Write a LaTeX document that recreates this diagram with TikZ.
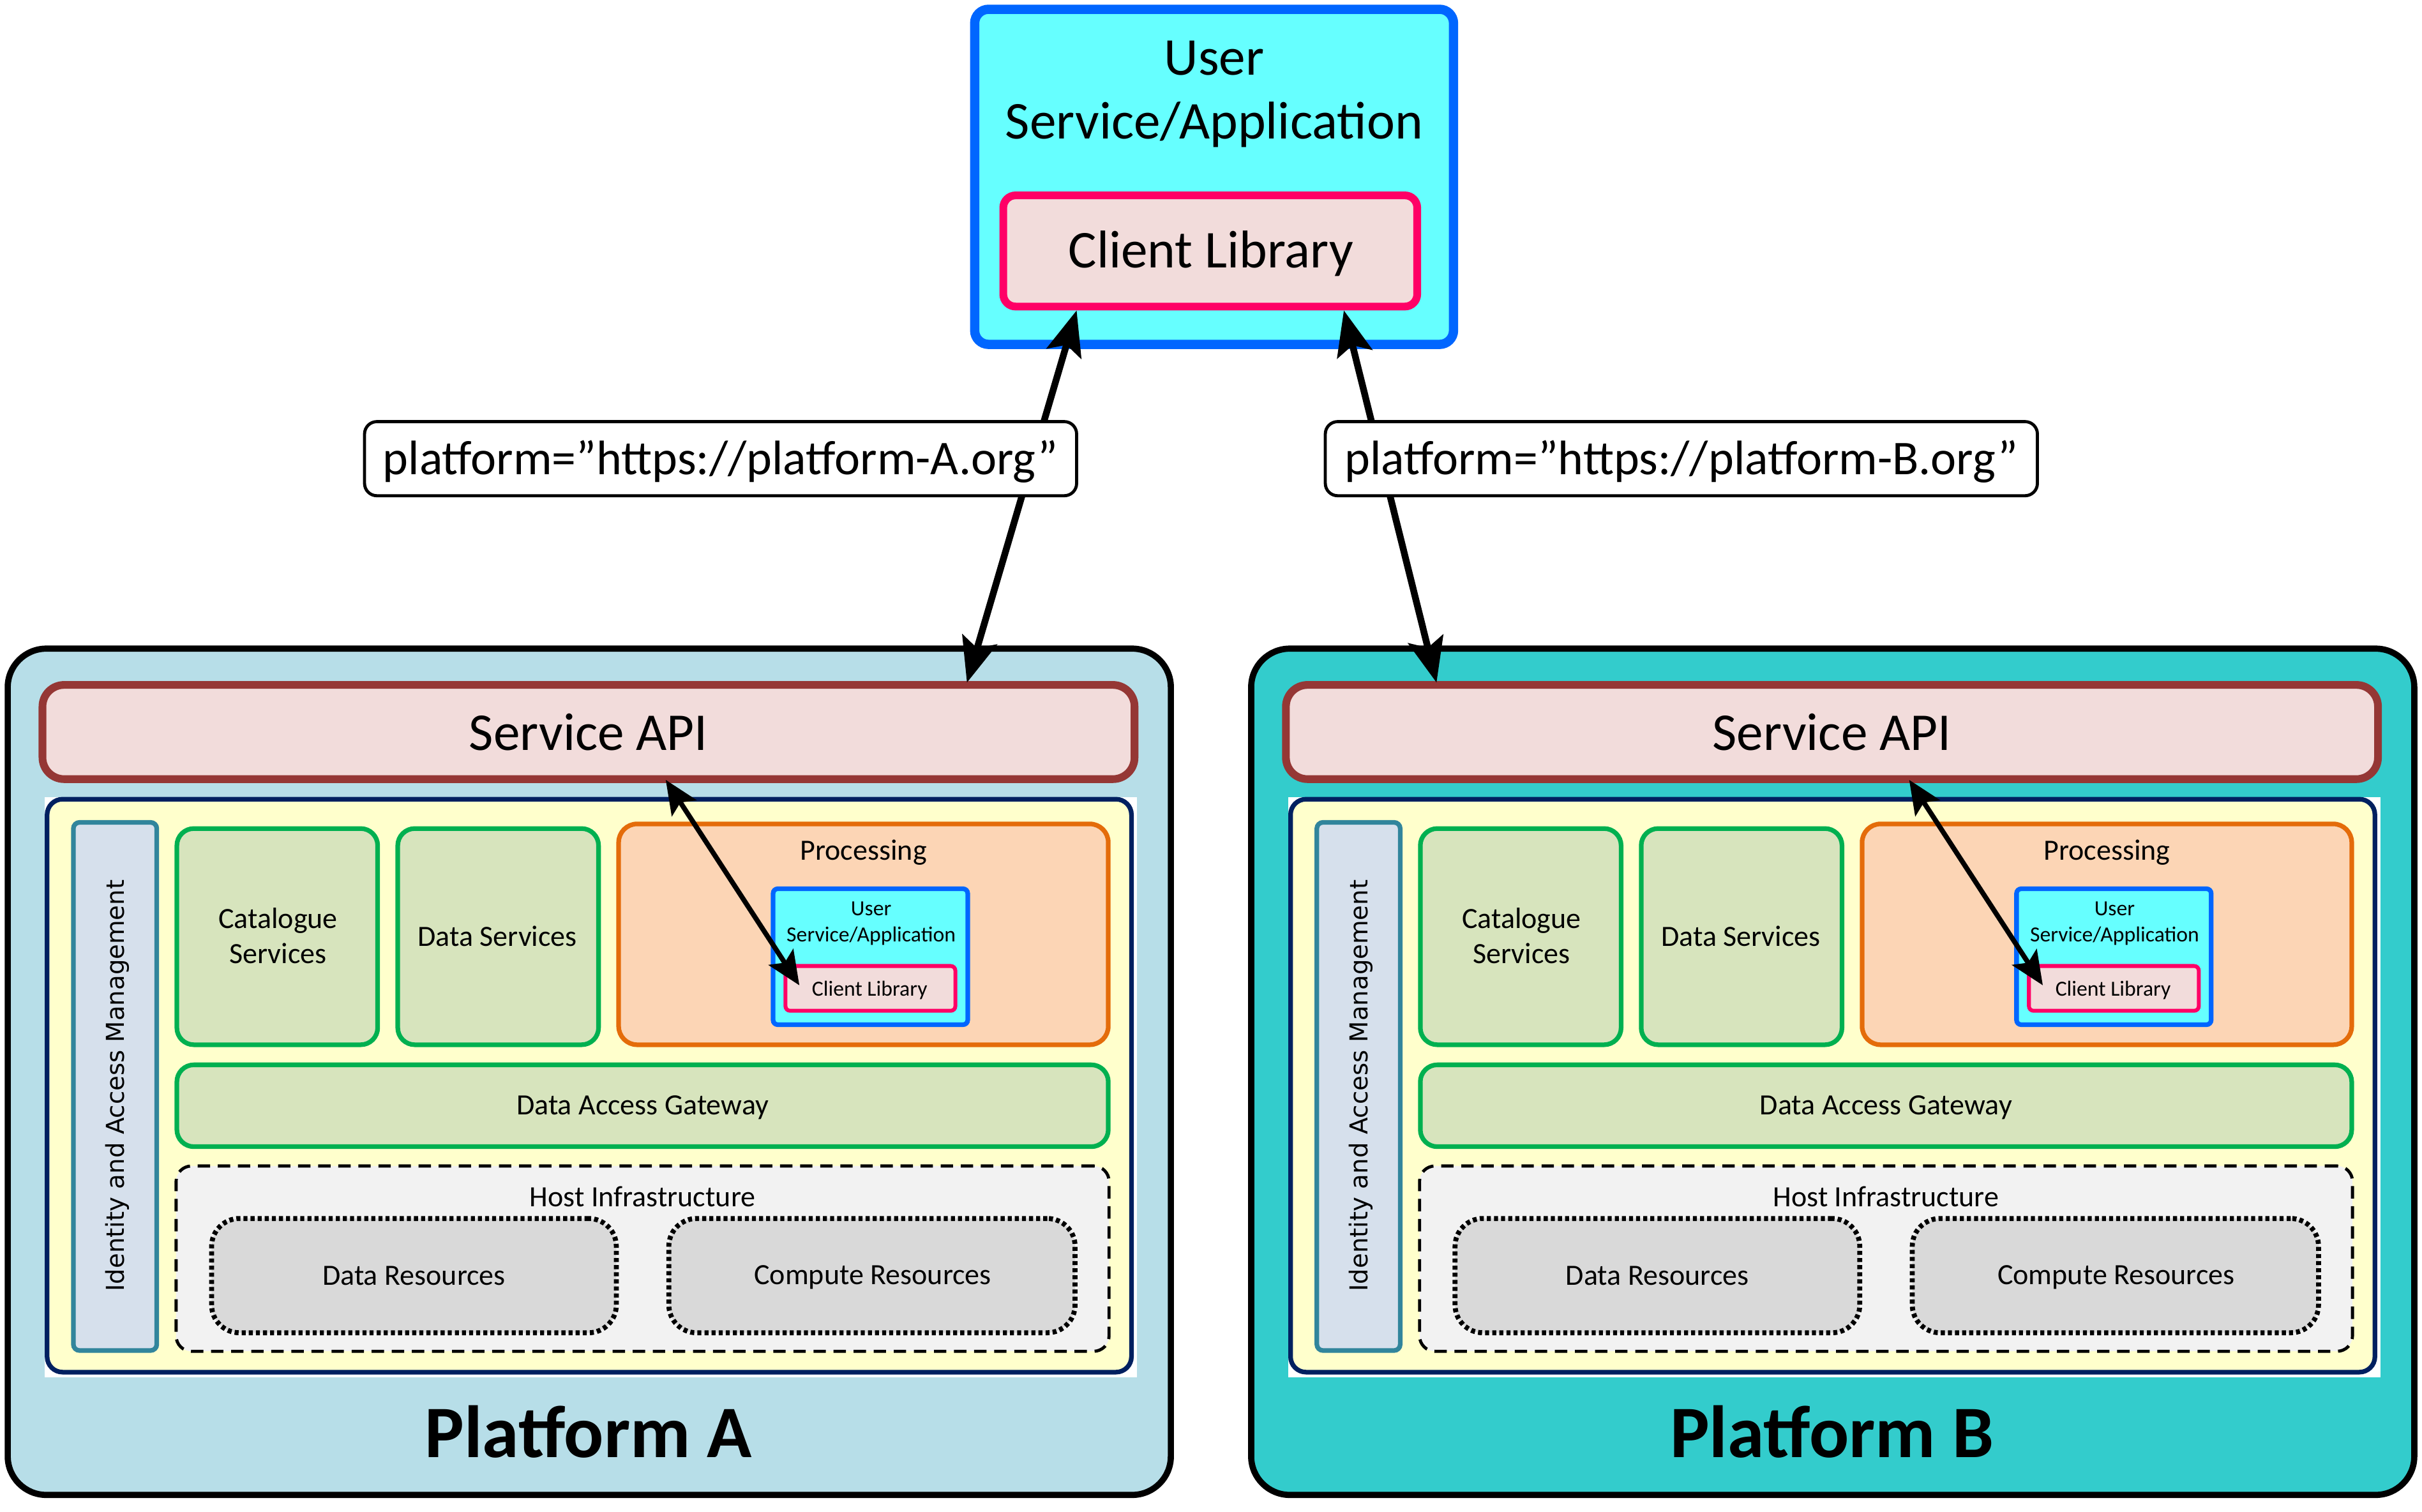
\documentclass[tikz,border=0pt]{standalone}
\usepackage{fontspec}
\setmainfont{Carlito}
\newfontfamily\iamfont{DejaVu Sans}
\usetikzlibrary{arrows.meta,fit,calc}
\newlength\pxu \setlength\pxu{0.24196mm}
\definecolor{ublue}{HTML}{0066FF}
\definecolor{ucyan}{HTML}{66FFFF}
\definecolor{cpink}{HTML}{FF0066}
\definecolor{cfill}{HTML}{F2DCDB}
\definecolor{platA}{HTML}{B7DEE8}
\definecolor{platB}{HTML}{33CCCC}
\definecolor{apibrd}{HTML}{953735}
\definecolor{yel}{HTML}{FFFFCC}
\definecolor{navy}{HTML}{002060}
\definecolor{iambrd}{HTML}{31859C}
\definecolor{iamfill}{HTML}{D6E0EC}
\definecolor{grn}{HTML}{00B050}
\definecolor{grnfill}{HTML}{D7E4BD}
\definecolor{orng}{HTML}{E46C0A}
\definecolor{orfill}{HTML}{FCD5B5}
\definecolor{hostfill}{HTML}{F2F2F2}
\definecolor{resfill}{HTML}{D9D9D9}
\begin{document}
\begin{tikzpicture}[x=0.24196mm,y=-0.24196mm,
  box/.style={inner sep=0pt},
  usrbox/.style={box, draw=ublue, fill=ucyan, line width=6\pxu, rounded corners=9\pxu},
  clbox/.style={box, draw=cpink, fill=cfill, line width=5\pxu, rounded corners=8\pxu},
  lblbox/.style={box, draw=black, fill=white, line width=2\pxu, rounded corners=8\pxu},
  platbox/.style={box, draw=black, line width=4\pxu, rounded corners=25\pxu},
  apibox/.style={box, draw=apibrd, fill=cfill, line width=5\pxu, rounded corners=14\pxu},
  yelbox/.style={box, draw=navy, fill=yel, line width=3\pxu, rounded corners=10\pxu},
  iambox/.style={box, draw=iambrd, fill=iamfill, line width=3\pxu, rounded corners=4\pxu},
  grnbox/.style={box, draw=grn, fill=grnfill, line width=3\pxu, rounded corners=11\pxu},
  procbox/.style={box, draw=orng, fill=orfill, line width=3\pxu, rounded corners=12\pxu},
  pusrbox/.style={box, draw=ublue, fill=ucyan, line width=3\pxu, rounded corners=3\pxu},
  pclbox/.style={box, draw=cpink, fill=cfill, line width=2.5\pxu, rounded corners=3\pxu},
  hostbox/.style={box, draw=black, fill=hostfill, line width=2\pxu, dash pattern=on 8\pxu off 5\pxu, rounded corners=10\pxu},
  resbox/.style={box, draw=black, fill=resfill, line width=3.2\pxu, dash pattern=on 2.6\pxu off 2\pxu, rounded corners=18\pxu},
  bigfont/.style={font=\fontsize{23.7}{28.5}\selectfont, align=center},
  lblfont/.style={font=\fontsize{21.6}{26}\selectfont},
  smallfont/.style={font=\fontsize{13.1}{15.8}\selectfont, align=center},
  tinyfont/.style={font=\fontsize{9.6}{11.7}\selectfont, align=center},
  iamtext/.style={font=\iamfont\fontsize{11}{12}\selectfont, rotate=90},
  platfont/.style={font=\fontsize{33}{40}\selectfont\bfseries},
  toparrow/.style={line width=3pt, {Stealth[length=20pt,width=16pt,inset=4pt]}-{Stealth[length=20pt,width=16pt,inset=4pt]}},
  innerarrow/.style={line width=2.2pt, {Stealth[length=15pt,width=13pt,inset=3pt]}-{Stealth[length=15pt,width=13pt,inset=3pt]}}
]
\useasboundingbox (0,0) rectangle (1568,979);

\foreach \s/\dx/\fc in {A/0/platA,B/805/platB}{
  \node[platbox, fill=\fc, fit={({5+\dx},420) ({758+\dx},968)}] (plat\s) {};
  \node[apibox, fit={({27.5+\dx},443.5) ({734.5+\dx},504.5)}] (api\s) {};
  \node[bigfont] (apiT\s) at ({381+\dx},474) {Service API};
  \fill[white] ({29+\dx},516) rectangle ({736+\dx},892);
  \node[yelbox, fit={({30.5+\dx},517.5) ({732.5+\dx},888.5)}] (core\s) {};
  \node[iambox, fit={({47.5+\dx},532.5) ({101.5+\dx},874.5)}] (iam\s) {};
  \node[iamtext] (iamT\s) at ({76+\dx},703) {Identity and Access Management};
  \node[grnbox, fit={({114.5+\dx},536.5) ({244.5+\dx},676.5)}] (cat\s) {};
  \node[smallfont] (catT\s) at ({180+\dx},606) {Catalogue\\Services};
  \node[grnbox, fit={({257.5+\dx},536.5) ({387.5+\dx},676.5)}] (ds\s) {};
  \node[smallfont] (dsT\s) at ({322+\dx},606) {Data Services};
  \node[procbox, fit={({400.5+\dx},533.5) ({717.5+\dx},676.5)}] (proc\s) {};
  \node[smallfont] (procT\s) at ({559+\dx},552) {Processing};
  \node[pusrbox, fit={({500.5+\dx},575.5) ({626.5+\dx},663.5)}] (pusr\s) {};
  \node[tinyfont] (pusrT\s) at ({564+\dx},598) {User\\Service/Application};
  \node[pclbox, fit={({508.5+\dx},625.5) ({618.5+\dx},654.5)}] (pcl\s) {};
  \node[tinyfont] (pclT\s) at ({563+\dx},641) {Client Library};
  \node[grnbox, fit={({114.5+\dx},689.5) ({717.5+\dx},742.5)}] (dag\s) {};
  \node[smallfont] (dagT\s) at ({416+\dx},717) {Data Access Gateway};
  \node[hostbox, fit={({114+\dx},755) ({718+\dx},875)}] (host\s) {};
  \node[smallfont] (hostT\s) at ({416+\dx},775) {Host Infrastructure};
  \node[resbox, fit={({137+\dx},789) ({399+\dx},863)}] (dres\s) {};
  \node[smallfont] (dresT\s) at ({268+\dx},826) {Data Resources};
  \node[resbox, fit={({433+\dx},789) ({696+\dx},863)}] (cres\s) {};
  \node[smallfont] (cresT\s) at ({565+\dx},827) {Compute Resources};
  \node[platfont] (platT\s) at ({381+\dx},927) {Platform \s};
  \draw[innerarrow] ($(api\s.south west)+(406,-2)$) -- ($(pcl\s.center)+(-46,-2)$);
}

\node[usrbox, fit={(631,6) (941,223)}] (usr) {};
\node[bigfont] (usrT) at (786,61) {User\\Service/Application};
\node[clbox, fit={(649.5,126.5) (917.5,198.5)}] (cl) {};
\node[bigfont] (clT) at (784,164) {Client Library};

\draw[toparrow] ($(cl.south west)+(50,0)$) -- ($(apiA.north west)+(601,1)$);
\draw[toparrow] ($(cl.south west)+(223,0)$) -- ($(apiB.north west)+(100,1)$);

\node[lblbox, fit={(236,273) (697,321)}] (labA) {};
\node[lblfont] (labAT) at ($(labA.center)+(0,2)$) {platform=”https://platform-A.org”};
\node[lblbox, fit={(858,273) (1319,321)}] (labB) {};
\node[lblfont] (labBT) at ($(labB.center)+(0,2)$) {platform=”https://platform-B.org”};
\end{tikzpicture}
\end{document}
